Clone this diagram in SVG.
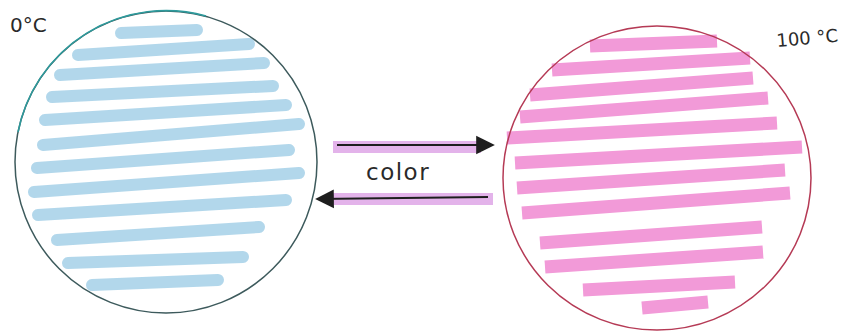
<svg xmlns="http://www.w3.org/2000/svg" width="843" height="334" viewBox="0 0 843 334">
<style>
.bs{stroke:#aed5ea;stroke-width:12;stroke-linecap:round;fill:none;opacity:0.95}
.ps{stroke:#f29ad8;stroke-width:13;stroke-linecap:butt;fill:none}
.lbl{font-family:"DejaVu Sans","Liberation Sans",sans-serif;fill:#2a2a2a}
.band{stroke:#e3b3ea;stroke-width:12;fill:none}
.arr{stroke:#1e1e1e;stroke-width:2.2;fill:none}
</style>
<defs>
<marker id="ah" viewBox="0 0 10 10" refX="9" refY="5" markerWidth="8.5" markerHeight="9.5" orient="auto" markerUnits="strokeWidth">
<path d="M0,0 L10,5 L0,10 Z" fill="#1e1e1e"/>
</marker>
</defs>
<rect width="843" height="334" fill="#ffffff"/>
<g id="cold">
<line class="bs" x1="121" y1="33" x2="197" y2="30"/>
<line class="bs" x1="78" y1="55" x2="249" y2="44"/>
<line class="bs" x1="60" y1="75" x2="264" y2="63"/>
<line class="bs" x1="52" y1="97" x2="273" y2="86"/>
<line class="bs" x1="45" y1="120" x2="286" y2="105"/>
<line class="bs" x1="43" y1="145" x2="299" y2="124"/>
<line class="bs" x1="37" y1="168" x2="289" y2="150"/>
<line class="bs" x1="34" y1="192" x2="299" y2="173"/>
<line class="bs" x1="38" y1="215" x2="286" y2="200"/>
<line class="bs" x1="57" y1="240" x2="259" y2="227"/>
<line class="bs" x1="68" y1="263" x2="243" y2="257"/>
<line class="bs" x1="92" y1="285" x2="218" y2="280"/>
<ellipse cx="166" cy="162" rx="151" ry="151" fill="none" stroke="#3d5a5c" stroke-width="1.5"/>
<path d="M18,132 A151,151 0 0 1 206,16" fill="none" stroke="#2e9a9c" stroke-width="1.6"/>
<text class="lbl" x="10" y="32" font-size="20">0°C</text>
</g>
<g id="hot">
<line class="ps" x1="590" y1="46" x2="717" y2="41"/>
<line class="ps" x1="552" y1="70" x2="750" y2="58"/>
<line class="ps" x1="530" y1="95" x2="753" y2="78"/>
<line class="ps" x1="520" y1="117" x2="768" y2="98"/>
<line class="ps" x1="507" y1="138" x2="777" y2="123"/>
<line class="ps" x1="515" y1="163" x2="802" y2="147"/>
<line class="ps" x1="517" y1="188" x2="785" y2="170"/>
<line class="ps" x1="522" y1="213" x2="790" y2="193"/>
<line class="ps" x1="540" y1="243" x2="762" y2="227"/>
<line class="ps" x1="545" y1="267" x2="763" y2="252"/>
<line class="ps" x1="583" y1="290" x2="735" y2="282"/>
<line class="ps" x1="642" y1="308" x2="708" y2="302"/>
<ellipse cx="657" cy="178" rx="154" ry="152" fill="none" stroke="#b53a55" stroke-width="1.5"/>
<text class="lbl" x="777" y="47" font-size="18" font-family="Liberation Sans, sans-serif" transform="rotate(-5 777 47)">100 °C</text>
</g>
<g id="connectors">
<line class="band" x1="333" y1="147" x2="481" y2="147"/>
<line class="arr" x1="337" y1="145" x2="493" y2="145" marker-end="url(#ah)"/>
<line class="band" x1="332" y1="199" x2="493" y2="199"/>
<line class="arr" x1="488" y1="197" x2="317" y2="199" marker-end="url(#ah)"/>
<text class="lbl" x="366" y="180" font-size="23" letter-spacing="1.5">color</text>
</g>
</svg>
